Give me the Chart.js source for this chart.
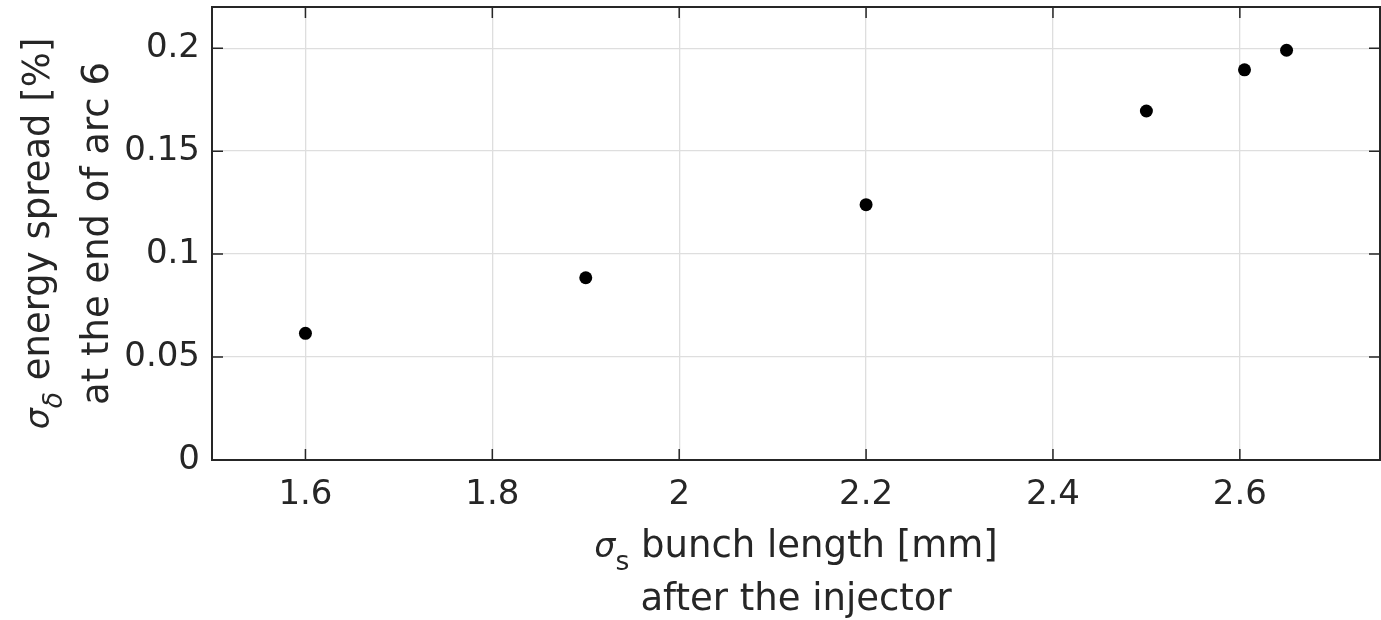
<!DOCTYPE html>
<html>
<head>
<meta charset="utf-8">
<script src="https://cdn.jsdelivr.net/npm/chart.js@4.4.1/dist/chart.umd.min.js"></script>
<style>
  html, body { margin: 0; padding: 0; background: #fff; }
  #wrap { width: 1381px; height: 620px; }
</style>
</head>
<body>
<div id="wrap"><canvas id="chart" width="1381" height="620"></canvas></div>
<script>
// bunch length after the injector [mm] vs energy spread at the end of arc 6 [%]
const bunchLength = [1.6, 1.9, 2.2, 2.5, 2.605, 2.65];
const energySpread = [0.0615, 0.0885, 0.124, 0.1695, 0.1895, 0.199];
const xTicks = [1.6, 1.8, 2, 2.2, 2.4, 2.6];
const yTicks = [0, 0.05, 0.1, 0.15, 0.2];

const xTitleLines = [
  [{ text: 'σ', italic: true, scale: 0.9 }, { text: 's', sub: true }, { text: ' bunch length [mm]' }],
  [{ text: 'after the injector' }],
];
const yTitleLines = [
  [{ text: 'σ', italic: true, scale: 0.9 }, { text: 'δ', sub: true, italic: true }, { text: ' energy spread [%]' }],
  [{ text: 'at the end of arc 6' }],
];

const FONT = 'DejaVu Sans';
const ink = '#262626';
const tickFont = 34;
const titleFont = 37;
const tickLen = 11;

const segFont = (seg, size) => {
  let s = size * (seg.scale || 1);
  if (seg.sub) s = size * 0.72;
  return `${seg.italic ? 'italic ' : ''}${s}px "${FONT}"`;
};

// draws a line made of plain / italic / subscript pieces, centred on 0
const drawRich = (ctx, segs, size) => {
  const widths = segs.map((seg) => {
    ctx.font = segFont(seg, size);
    return ctx.measureText(seg.text).width;
  });
  const total = widths.reduce((a, b) => a + b, 0);
  let x = -total / 2;
  segs.forEach((seg, i) => {
    ctx.font = segFont(seg, size);
    ctx.fillText(seg.text, x, seg.sub ? size * 0.36 : 0);
    x += widths[i];
  });
};

const frame = {
  id: 'frame',
  afterDraw(chart) {
    const { ctx, chartArea: a, scales: { x, y } } = chart;
    ctx.save();
    ctx.strokeStyle = ink;
    ctx.lineWidth = 1.5;
    ctx.beginPath();
    xTicks.forEach((v) => {
      const px = x.getPixelForValue(v);
      ctx.moveTo(px, a.bottom); ctx.lineTo(px, a.bottom - tickLen);
      ctx.moveTo(px, a.top); ctx.lineTo(px, a.top + tickLen);
    });
    yTicks.forEach((v) => {
      const py = y.getPixelForValue(v);
      ctx.moveTo(a.left, py); ctx.lineTo(a.left + tickLen, py);
      ctx.moveTo(a.right, py); ctx.lineTo(a.right - tickLen, py);
    });
    ctx.stroke();
    ctx.lineWidth = 2;
    ctx.strokeRect(a.left, a.top, a.right - a.left, a.bottom - a.top);

    ctx.fillStyle = ink;
    ctx.textBaseline = 'alphabetic';
    ctx.textAlign = 'left';
    const cx = (a.left + a.right) / 2;
    [557, 610].forEach((base, i) => {
      ctx.save();
      ctx.translate(cx, base);
      drawRich(ctx, xTitleLines[i], titleFont);
      ctx.restore();
    });
    const cy = (a.top + a.bottom) / 2;
    [49, 108].forEach((base, i) => {
      ctx.save();
      ctx.translate(base, cy);
      ctx.rotate(-Math.PI / 2);
      drawRich(ctx, yTitleLines[i], titleFont);
      ctx.restore();
    });
    ctx.restore();
  },
};

const gridStyle = { color: '#dedede', lineWidth: 1.3, drawTicks: false };
const noPadding = (scale) => {
  scale.paddingTop = 0;
  scale.paddingBottom = 0;
  scale.paddingLeft = 0;
  scale.paddingRight = 0;
};

new Chart(document.getElementById('chart'), {
  type: 'scatter',
  data: {
    datasets: [{
      data: bunchLength.map((v, i) => ({ x: v, y: energySpread[i] })),
      backgroundColor: '#000',
      borderWidth: 0,
      pointRadius: 6.5,
      pointHoverRadius: 6.5,
    }],
  },
  options: {
    responsive: false,
    animation: false,
    layout: { autoPadding: false, padding: { top: 7, right: 1, left: 0, bottom: 0 } },
    plugins: { legend: { display: false }, tooltip: { enabled: false } },
    scales: {
      x: {
        type: 'linear',
        min: 1.5,
        max: 2.75,
        afterBuildTicks: (scale) => { scale.ticks = xTicks.map((value) => ({ value })); },
        afterFit: (scale) => { scale.height = 160; noPadding(scale); },
        ticks: {
          font: { family: FONT, size: tickFont },
          color: ink,
          padding: 15,
          autoSkip: false,
          maxRotation: 0,
          callback: (v) => String(v),
        },
        grid: gridStyle,
        border: { display: false },
      },
      y: {
        type: 'linear',
        min: 0,
        max: 0.22,
        afterBuildTicks: (scale) => { scale.ticks = yTicks.map((value) => ({ value })); },
        afterFit: (scale) => { scale.width = 212; noPadding(scale); },
        ticks: {
          font: { family: FONT, size: tickFont },
          color: ink,
          padding: 12,
          autoSkip: false,
          callback: (v) => String(v),
        },
        grid: gridStyle,
        border: { display: false },
      },
    },
  },
  plugins: [frame],
});
</script>
</body>
</html>
